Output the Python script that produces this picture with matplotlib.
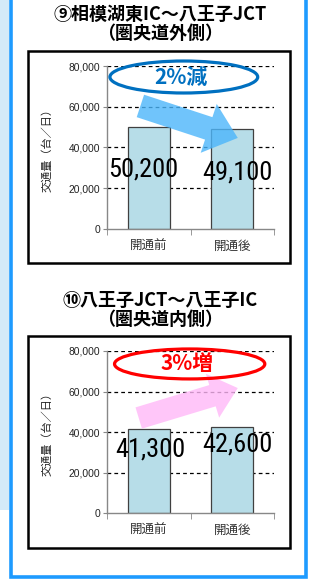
import matplotlib.pyplot as plt
from matplotlib import font_manager
from matplotlib.patches import Rectangle, Ellipse, FancyArrowPatch

plt.rcParams['font.family'] = ['Noto Sans CJK JP', 'DejaVu Sans']

categories = ['開通前', '開通後']
titles = ['⑨相模湖東IC～八王子JCT\n（圏央道外側）', '⑩八王子JCT～八王子IC\n（圏央道内側）']
values = [[50200, 49100], [41300, 42600]]
changes = ['2%減', '3%増']
change_colors = ['#0070c0', '#ff0000']
arrow_colors = ['#4cb6fb', '#ffb8f8']
yticks = [0, 20000, 40000, 60000, 80000]

# a narrow face for the big numbers, if one is installed
narrow = None
for fp in font_manager.fontManager.ttflist:
    if 'Narrow' in fp.fname or 'Condensed' in fp.fname:
        if 'Liberation' in fp.fname or 'DejaVuSansCondensed.ttf' in fp.fname or 'Roboto' in fp.fname:
            narrow = fp.fname
            if 'Liberation' in fp.fname and 'Bold' not in fp.fname and 'Italic' not in fp.fname:
                break
if narrow:
    num_font = dict(fontproperties=font_manager.FontProperties(fname=narrow, size=19))
else:
    num_font = dict(family='Liberation Sans', fontsize=17)

W, H = 312, 585
fig = plt.figure(figsize=(W / 100, H / 100), dpi=100)
fig.patch.set_facecolor('white')


def px(x, y, w, h):
    # pixel box (top-left origin) -> figure fraction
    return [x / W, 1 - (y + h) / H, w / W, h / H]


# background strip left of the panel and the blue panel frame
fig.patches.append(Rectangle((0, 1 - 510 / H), 9 / W, 510 / H, transform=fig.transFigure,
                             facecolor='#d4eaf8', edgecolor='none', zorder=-5))
fig.patches.append(Rectangle((10.5 / W, 1 - 577 / H), 295.5 / W, 600 / H, transform=fig.transFigure,
                             facecolor='white', edgecolor='#1e9bff', lw=2.6, zorder=-5))

layout = [dict(title_y=24, box=(28, 51, 262, 212), ax=(107, 66, 167, 163)),
          dict(title_y=310, box=(28, 336, 262, 212), ax=(107, 351, 167, 162))]

label_pos = [[(-0.07, 29000), (1.06, 27500)], [(0.02, 31600), (1.06, 34000)]]
ellipse_pos = [(0.42, 74600, 1.77, 15700), (0.49, 73600, 1.80, 14800)]
arrow_pos = [((-0.10, 60400), (1.066, 44700)), ((-0.12, 46900), (1.066, 61700))]

for k in range(2):
    L = layout[k]
    fig.text(160 / W, 1 - L['title_y'] / H, titles[k], ha='center', va='center',
             fontsize=13, fontweight='bold', linespacing=1.05)
    bx, by, bw, bh = L['box']
    fig.patches.append(Rectangle((bx / W, 1 - (by + bh) / H), bw / W, bh / H,
                                 transform=fig.transFigure, facecolor='white',
                                 edgecolor='black', lw=1.8, zorder=-4))

    ax = fig.add_axes(px(*L['ax']))
    ax.set_facecolor('none')
    x = range(len(categories))
    ax.bar(x, values[k], width=0.5, color='#b7dde8', edgecolor='#404040', lw=0.9, zorder=2)
    ax.set_xlim(-0.5, 1.5)
    ax.set_ylim(0, 80000)
    ax.set_yticks(yticks)
    ax.set_yticklabels([f'{v:,}' for v in yticks], family=['Liberation Sans', 'DejaVu Sans'],
                       fontsize=7.4, color='#222222')
    ax.set_xticks(list(x))
    ax.set_xticklabels(categories, fontsize=9, color='#333333')
    ax.set_xticks([-0.5, 0.5, 1.5], minor=True)
    ax.tick_params(axis='x', which='major', length=0, pad=8)
    ax.tick_params(axis='x', which='minor', length=4, color='#888888')
    ax.tick_params(axis='y', length=3, color='#888888', pad=2)
    for v in yticks[1:]:
        ax.axhline(v, color='black', lw=0.9, ls=(0, (3, 2.5)), zorder=1)
    for s in ['top', 'right']:
        ax.spines[s].set_visible(False)
    for s in ['left', 'bottom']:
        ax.spines[s].set_color('#888888')
        ax.spines[s].set_linewidth(1)
    ax.set_ylabel('交通量（台／日）', fontsize=8, color='#222222')
    ax.yaxis.set_label_coords(-0.325, 0.5)

    (x0, y0), (x1, y1) = arrow_pos[k]
    if k == 0:
        style = 'simple,tail_width=17,head_width=37,head_length=22'
    else:
        style = 'simple,tail_width=16,head_width=33,head_length=19'
    ax.add_patch(FancyArrowPatch((x0, y0), (x1, y1), arrowstyle=style, mutation_scale=1,
                                 shrinkA=0, shrinkB=0, color=arrow_colors[k], alpha=0.8,
                                 lw=0, zorder=3, clip_on=False))

    ex, ey, ew, eh = ellipse_pos[k]
    ax.add_patch(Ellipse((ex, ey), ew, eh, facecolor='none', edgecolor=change_colors[k],
                         lw=2.3, zorder=4, clip_on=False))
    ax.text(ex - 0.03, ey, changes[k], ha='center', va='center', fontsize=15,
            fontweight='bold', color=change_colors[k], zorder=5)

    for i, v in enumerate(values[k]):
        lx, ly = label_pos[k][i]
        ax.text(lx, ly, f'{v:,}', ha='center', va='center', color='black', zorder=5,
                **num_font)

fig.savefig('out.png', dpi=100)
